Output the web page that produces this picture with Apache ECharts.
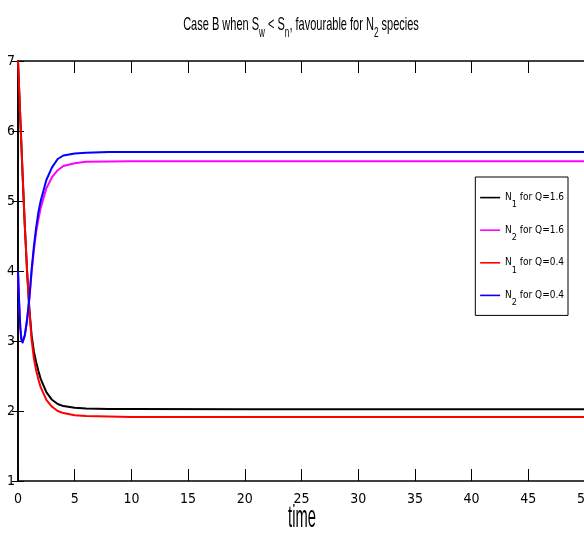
<!DOCTYPE html>
<html>
<head>
<meta charset="utf-8">
<script src="https://cdn.jsdelivr.net/npm/echarts@6/dist/echarts.min.js"></script>
<style>
  html, body { margin: 0; padding: 0; background: #fff; }
  #chart { width: 584px; height: 543px; }
</style>
</head>
<body>
<div id="chart"></div>
<script>
// Simulation time points
const times = [0, 0.1, 0.2, 0.3, 0.4, 0.5, 0.6, 0.8, 1.0, 1.2, 1.4, 1.6, 1.8, 2.0, 2.5, 3, 3.5, 4, 5, 6, 8, 10, 20, 30, 40, 50];

// Population densities
const n1Q16 = [7, 6.6, 6.2, 5.8, 5.4, 5.02, 4.65, 4.0, 3.46, 3.08, 2.85, 2.7, 2.57, 2.46, 2.27, 2.16, 2.1, 2.07, 2.045, 2.035, 2.03, 2.027, 2.025, 2.025, 2.025, 2.025];
const n2Q16 = [4.0, 3.55, 3.2, 3.02, 2.98, 3.0, 3.08, 3.3, 3.6, 3.98, 4.3, 4.56, 4.74, 4.9, 5.18, 5.34, 5.44, 5.5, 5.54, 5.56, 5.565, 5.567, 5.567, 5.567, 5.567, 5.567];
const n1Q04 = [7, 6.6, 6.2, 5.8, 5.4, 5.02, 4.65, 4.0, 3.45, 3.02, 2.75, 2.58, 2.45, 2.34, 2.16, 2.06, 2.0, 1.97, 1.94, 1.93, 1.92, 1.915, 1.913, 1.913, 1.913, 1.913];
const n2Q04 = [4.0, 3.55, 3.2, 3.02, 2.98, 3.0, 3.08, 3.3, 3.62, 4.02, 4.35, 4.62, 4.84, 5.0, 5.3, 5.48, 5.6, 5.65, 5.68, 5.69, 5.7, 5.7, 5.7, 5.7, 5.7, 5.7];

const seriesNames = ['N1 for Q=1.6', 'N2 for Q=1.6', 'N1 for Q=0.4', 'N2 for Q=0.4'];
const seriesColors = ['#000000', '#ff00ff', '#ff0000', '#0000ff'];
const seriesValues = [n1Q16, n2Q16, n1Q04, n2Q04];

// Axis ranges and tick spacing
const xRange = [0, 50], xStep = 5;
const yRange = [1, 7], yStep = 1;

const NARROW = "'Liberation Sans Narrow', 'DejaVu Sans Condensed', 'Liberation Sans', sans-serif";

const chart = echarts.init(document.getElementById('chart'), null, { renderer: 'canvas' });

const frameLine = { show: true, lineStyle: { color: '#000', width: 1.6 } };
const xTick = { show: true, inside: true, length: 12, lineStyle: { color: '#000', width: 1 } };
const yTick = { show: true, inside: true, length: 6, lineStyle: { color: '#000', width: 1 } };

const option = {
  animation: false,
  backgroundColor: '#fff',
  grid: { left: 18, right: -1, top: 61, bottom: 62, containLabel: false, outerBoundsMode: 'none' },
  xAxis: [
    {
      type: 'value', position: 'bottom', min: xRange[0], max: xRange[1], interval: xStep,
      axisLine: frameLine, axisTick: xTick,
      axisLabel: { color: '#000', fontFamily: NARROW, fontSize: 14, margin: 11 },
      splitLine: { show: false }
    },
    {
      type: 'value', position: 'top', min: xRange[0], max: xRange[1], interval: xStep,
      axisLine: frameLine, axisTick: xTick,
      axisLabel: { show: false },
      splitLine: { show: false }
    }
  ],
  yAxis: [
    {
      type: 'value', position: 'left', min: yRange[0], max: yRange[1], interval: yStep,
      axisLine: frameLine, axisTick: yTick,
      axisLabel: { color: '#000', fontFamily: NARROW, fontSize: 14, margin: 3 },
      splitLine: { show: false }
    },
    {
      type: 'value', position: 'right', min: yRange[0], max: yRange[1], interval: yStep,
      axisLine: frameLine, axisTick: yTick,
      axisLabel: { show: false },
      splitLine: { show: false }
    }
  ],
  legend: {
    orient: 'vertical',
    right: 16,
    top: 177,
    padding: [15, 4, 8, 4],
    itemWidth: 20,
    itemHeight: 14,
    itemGap: 15,
    borderColor: '#000',
    borderWidth: 1,
    backgroundColor: '#fff',
    itemStyle: { opacity: 0 },
    lineStyle: { width: 1.6 },
    data: seriesNames,
    formatter: function (name) {
      return name.replace(/^N(\d)(.*)$/, '{m|N}{s|$1}{m|$2}');
    },
    textStyle: {
      color: '#000',
      rich: {
        m: { fontFamily: NARROW, fontSize: 10, lineHeight: 10, verticalAlign: 'top', color: '#000' },
        s: { fontFamily: NARROW, fontSize: 9, lineHeight: 9, padding: [8, 0, 0, 0], verticalAlign: 'top', color: '#000' }
      }
    }
  },
  series: seriesNames.map(function (name, i) {
    return {
      name: name,
      type: 'line',
      xAxisIndex: 0,
      yAxisIndex: 0,
      symbol: 'none',
      smooth: false,
      lineStyle: { color: seriesColors[i], width: 2, join: 'round' },
      itemStyle: { color: seriesColors[i] },
      data: times.map(function (t, k) { return [t, seriesValues[i][k]]; })
    };
  }),
  graphic: [
    {
      type: 'text', x: 301, y: 25, scaleX: 0.58,
      style: {
        text: '{m|Case B when S}{s|w}{m| < S}{s|n}{m|, favourable for N}{s|2}{m| species}',
        align: 'center', verticalAlign: 'middle', fill: '#000',
        rich: {
          m: { fontFamily: 'Liberation Sans', fontSize: 19, lineHeight: 19, verticalAlign: 'top', fill: '#000' },
          s: { fontFamily: 'Liberation Sans', fontSize: 14, lineHeight: 14, padding: [11, 0, 0, 0], verticalAlign: 'top', fill: '#000' }
        }
      }
    },
    {
      type: 'text', x: 302, y: 518, scaleX: 0.46,
      style: { text: 'time', fontFamily: 'Liberation Sans', fontSize: 32, align: 'center', verticalAlign: 'middle', fill: '#000' }
    }
  ]
};

chart.setOption(option);
</script>
</body>
</html>
